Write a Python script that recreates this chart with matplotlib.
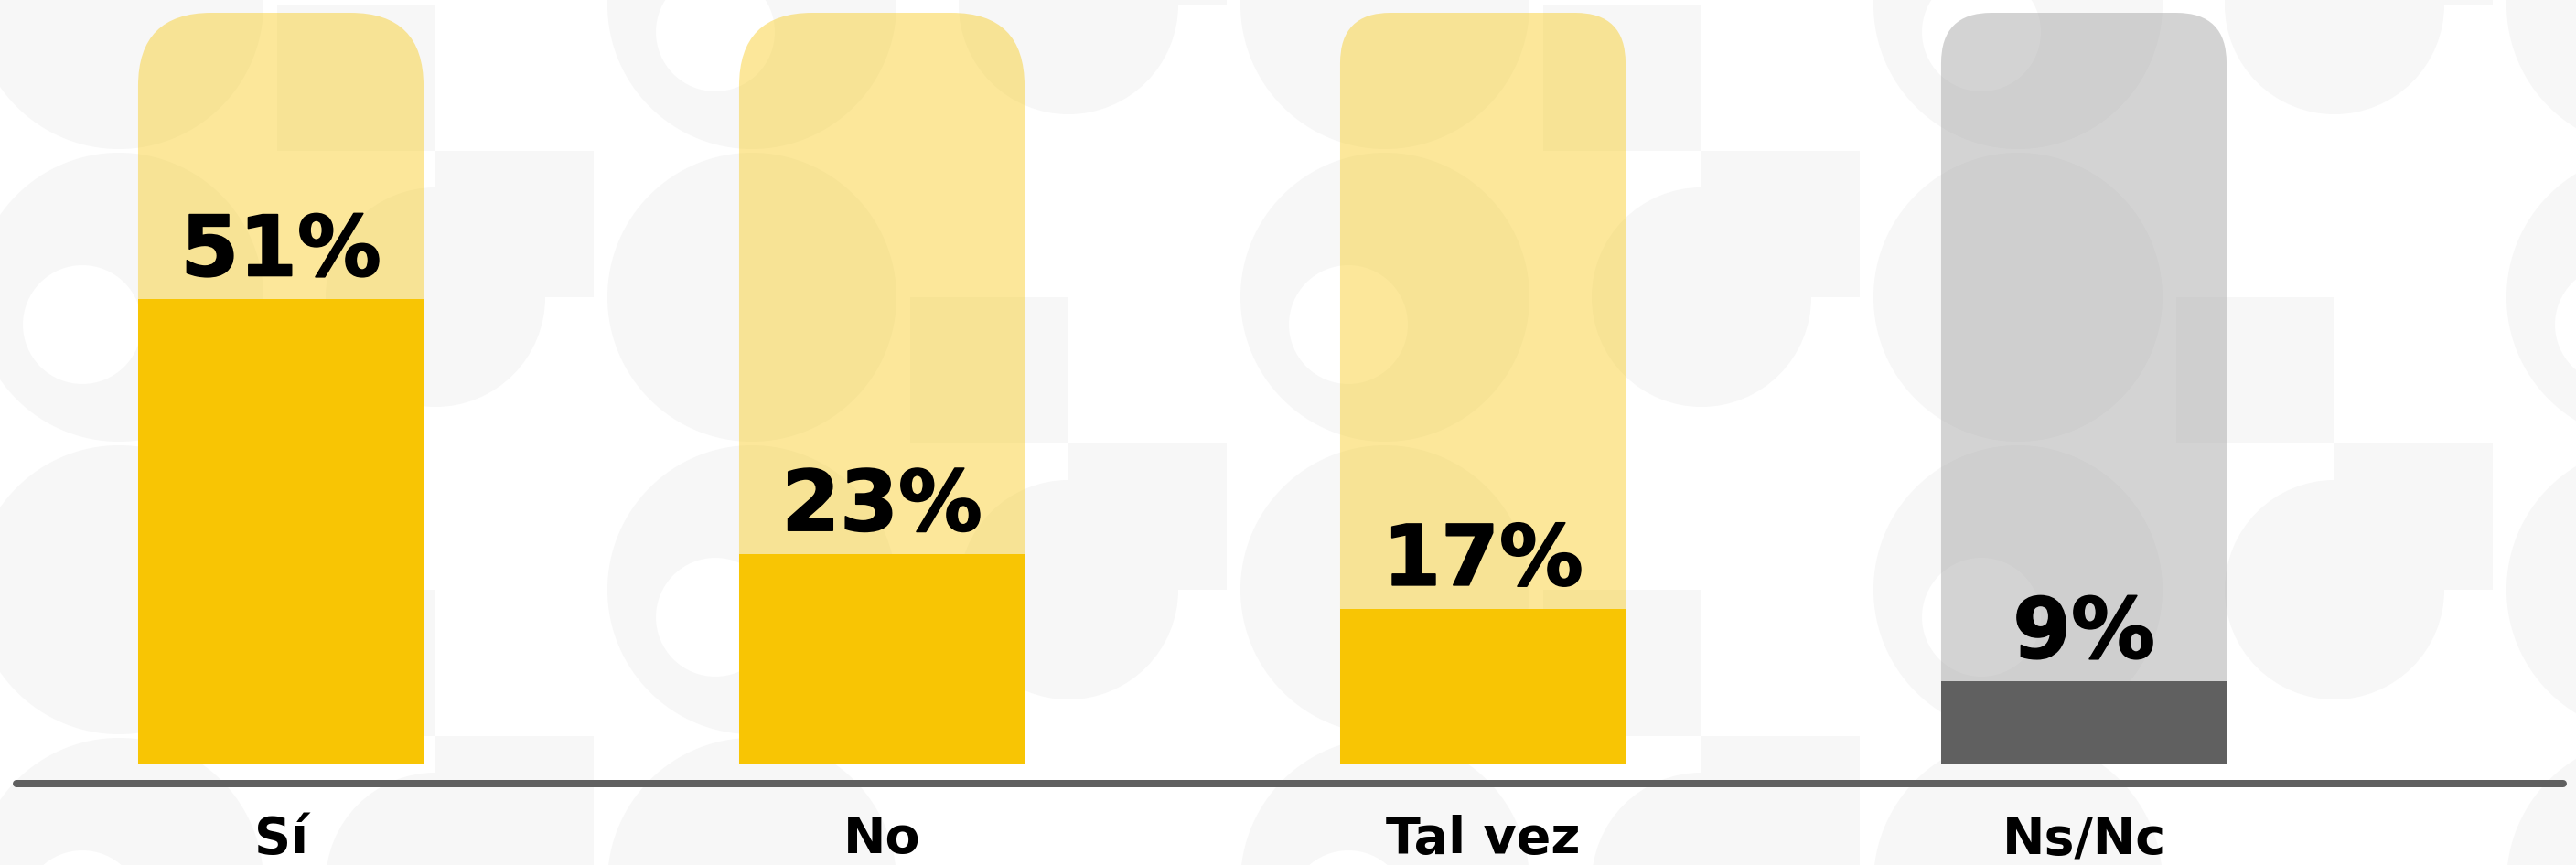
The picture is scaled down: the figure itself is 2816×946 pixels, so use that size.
import matplotlib
matplotlib.use('Agg')
import matplotlib.pyplot as plt
import matplotlib.patheffects as pe
from matplotlib.patches import FancyBboxPatch, Circle, Rectangle
from matplotlib.lines import Line2D

# Survey answers and their share of responses (%).
categories = ['Sí', 'No', 'Tal vez', 'Ns/Nc']
values = [51, 23, 17, 9]
labels = ['51%', '23%', '17%', '9%']

# Styling per bar.
bar_colors = ['#F8C504', '#F8C504', '#F8C504', '#606060']
track_colors = ['#F8C504', '#F8C504', '#F8C504', '#939393']
corner_px = [80, 80, 55, 55]
track_top = 82.5          # height of the rounded background track
bar_width = 0.475

W, H, DPI = 2816, 946, 100
fig = plt.figure(figsize=(W / DPI, H / DPI), dpi=DPI)
fig.patch.set_facecolor('white')

# Decorative background pattern (light grey shapes).
bg = fig.add_axes([0, 0, 1, 1], zorder=0)
bg.set_xlim(0, W)
bg.set_ylim(H, 0)
bg.axis('off')
pat = '#f7f7f7'
cell_w, cell_h = 346, 320
for j in range(-1, 4):
    for k in range(-1, 9):
        cx = 130 + k * cell_w
        cy = 5 + j * cell_h
        kind = (k + 2 * j) % 4
        if kind == 0:
            bg.add_patch(Circle((cx, cy), 158, color=pat, lw=0))
        elif kind == 1:
            bg.add_patch(Rectangle((cx - 173, cy), 173, 160, color=pat, lw=0))
        elif kind == 2:
            bg.add_patch(Circle((cx, cy), 158, color=pat, lw=0))
            bg.add_patch(Circle((cx - 40, cy + 30), 65, color='white', lw=0))
        else:
            bg.add_patch(Rectangle((cx, cy - 160), 173, 160, color=pat, lw=0))
            bg.add_patch(Circle((cx, cy), 120, color=pat, lw=0))

# Main chart axes: bottom of bars at 835 px, track top at 14 px.
ax_bottom_px, ax_top_px = 835, 14
ax = fig.add_axes([0, (H - ax_bottom_px) / H, 1, (ax_bottom_px - ax_top_px) / H], zorder=1)
ax.patch.set_alpha(0)
first_center_px, spacing_px = 307, 657
ax.set_xlim(-first_center_px / spacing_px, (W - first_center_px) / spacing_px)
ax.set_ylim(0, track_top)
ax.axis('off')

px_per_x = spacing_px
px_per_y = (ax_bottom_px - ax_top_px) / track_top
aspect = px_per_x / px_per_y

x = list(range(len(categories)))
for xi, tc, r in zip(x, track_colors, corner_px):
    track = FancyBboxPatch((xi - bar_width / 2, -15), bar_width, track_top + 15,
                           boxstyle=f'round,pad=0,rounding_size={r / px_per_x}',
                           mutation_aspect=aspect,
                           facecolor=tc, alpha=0.4, edgecolor='none', zorder=1)
    ax.add_patch(track)

ax.bar(x, values, width=bar_width, color=bar_colors, zorder=2)

# slight stroke to mimic an extra-bold face
heavy = [pe.withStroke(linewidth=1.2, foreground='black')]
for xi, v, lab in zip(x, values, labels):
    ax.annotate(lab, (xi, v), xytext=(0, 26 * 72 / DPI), textcoords='offset points',
                ha='center', va='baseline', fontsize=66, fontweight='bold',
                color='black', zorder=3, path_effects=heavy)

# Category labels under the baseline.
label_y = (ax_bottom_px - 933) / (ax_bottom_px - ax_top_px)
for xi, cat in zip(x, categories):
    ax.text(xi, label_y, cat, transform=ax.get_xaxis_transform(),
            ha='center', va='baseline', fontsize=40, fontweight='bold',
            color='black', clip_on=False)

# Grey baseline with rounded caps.
base_y = 1 - 857 / H
fig.add_artist(Line2D([18 / W, 2802 / W], [base_y, base_y], color='#606060',
                      linewidth=8 * 72 / DPI, solid_capstyle='round', zorder=2))

fig.savefig('out.png', dpi=DPI)
